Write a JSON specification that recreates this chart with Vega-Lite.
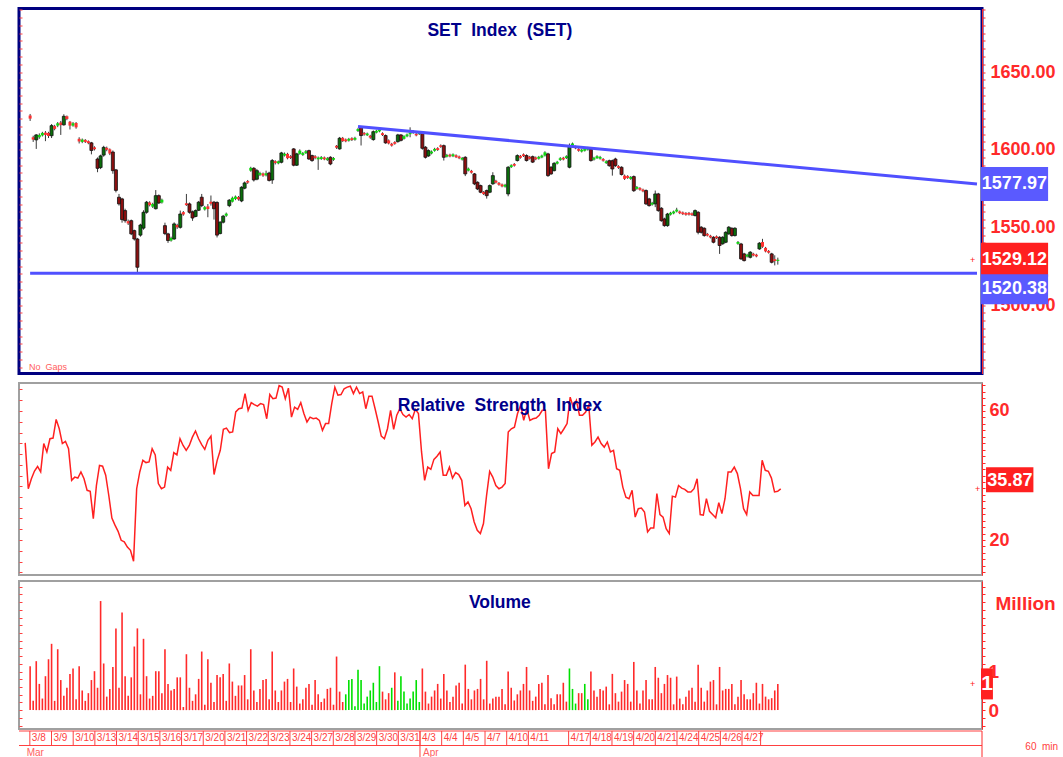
{
"$schema": "https://vega.github.io/schema/vega-lite/v6.json",
"background": "white",
"padding": {"left": 17, "top": 6.5, "right": 0, "bottom": 0},
"config": {"view": {"stroke": null}, "font": "Liberation Sans, sans-serif"},
"datasets": {
"bars": [
{"i":2,"o":1622,"h":1623,"l":1618.5,"c":1620,"r":50.1,"v":1.14},
{"i":3,"o":1608,"h":1609,"l":1605,"c":1606.5,"r":35.9,"v":0.24},
{"i":4,"o":1606.3,"h":1610,"l":1600.5,"c":1609.5,"r":39.0,"v":1.27},
{"i":5,"o":1608,"h":1610.5,"l":1607,"c":1609.5,"r":41.4,"v":0.68},
{"i":6,"o":1609.2,"h":1611.5,"l":1608.5,"c":1610.8,"r":42.8,"v":0.30},
{"i":7,"o":1611,"h":1612,"l":1605.5,"c":1609.5,"r":41.1,"v":0.88},
{"i":8,"o":1610.8,"h":1611.5,"l":1607.5,"c":1608.8,"r":49.9,"v":1.32},
{"i":9,"o":1609,"h":1616.5,"l":1607.5,"c":1615.5,"r":47.3,"v":1.72},
{"i":10,"o":1615.2,"h":1616,"l":1612.5,"c":1613.4,"r":51.4,"v":0.24},
{"i":11,"o":1615.5,"h":1617.8,"l":1614.5,"c":1617,"r":51.6,"v":1.58},
{"i":12,"o":1617.5,"h":1618.5,"l":1609.5,"c":1615.8,"r":57.4,"v":0.78},
{"i":13,"o":1616,"h":1622.8,"l":1615.5,"c":1621.5,"r":54.5,"v":0.37},
{"i":14,"o":1621.5,"h":1622,"l":1619,"c":1619.8,"r":49.9,"v":0.58},
{"i":15,"o":1618,"h":1618.5,"l":1613,"c":1615.5,"r":50.6,"v":0.94},
{"i":16,"o":1615.5,"h":1617.8,"l":1614.8,"c":1617,"r":48.3,"v":1.08},
{"i":17,"o":1617.2,"h":1617.8,"l":1613.5,"c":1614.4,"r":38.5,"v":0.28},
{"i":18,"o":1607,"h":1608,"l":1604,"c":1605.3,"r":39.5,"v":1.14},
{"i":19,"o":1605,"h":1607.2,"l":1604.2,"c":1606.5,"r":39.2,"v":0.51},
{"i":20,"o":1606.3,"h":1606.8,"l":1604.3,"c":1605,"r":41.1,"v":0.24},
{"i":21,"o":1605.5,"h":1606,"l":1603.5,"c":1604.2,"r":39.0,"v":0.44},
{"i":22,"o":1604.4,"h":1605,"l":1597,"c":1599.5,"r":35.4,"v":0.78},
{"i":23,"o":1601.5,"h":1602.2,"l":1599.5,"c":1600.3,"r":35.1,"v":1.01},
{"i":24,"o":1594,"h":1595,"l":1585.5,"c":1588,"r":26.6,"v":0.58},
{"i":25,"o":1588.5,"h":1596.8,"l":1587.5,"c":1596,"r":36.9,"v":2.83},
{"i":26,"o":1596.5,"h":1602.5,"l":1595.5,"c":1601.5,"r":43.1,"v":1.21},
{"i":27,"o":1601.2,"h":1602,"l":1599,"c":1600,"r":42.9,"v":0.35},
{"i":28,"o":1600.2,"h":1600.8,"l":1596.5,"c":1597.5,"r":40.1,"v":0.55},
{"i":29,"o":1598.5,"h":1599.5,"l":1584.5,"c":1586.5,"r":33.8,"v":1.12},
{"i":30,"o":1587,"h":1587.6,"l":1572.5,"c":1573.8,"r":26.8,"v":2.12},
{"i":31,"o":1569.4,"h":1571.5,"l":1564,"c":1565.1,"r":24.6,"v":0.58},
{"i":32,"o":1568.3,"h":1569,"l":1553,"c":1555,"r":22.7,"v":2.53},
{"i":33,"o":1560.8,"h":1562,"l":1553,"c":1554.3,"r":19.9,"v":0.88},
{"i":34,"o":1554,"h":1555,"l":1551.5,"c":1552.5,"r":19.4,"v":0.37},
{"i":35,"o":1554.3,"h":1555,"l":1545,"c":1545.8,"r":17.8,"v":0.85},
{"i":36,"o":1547.9,"h":1548.5,"l":1541.5,"c":1542.5,"r":16.8,"v":1.65},
{"i":37,"o":1542.5,"h":1543.2,"l":1520.4,"c":1524.3,"r":13.4,"v":2.12},
{"i":38,"o":1545,"h":1552.3,"l":1544,"c":1551.5,"r":35.9,"v":0.41},
{"i":39,"o":1549.5,"h":1561,"l":1548.5,"c":1559.7,"r":41.1,"v":1.85},
{"i":40,"o":1559.7,"h":1567,"l":1558.8,"c":1566.2,"r":44.7,"v":0.88},
{"i":41,"o":1566,"h":1566.8,"l":1563.5,"c":1564.3,"r":44.0,"v":0.30},
{"i":42,"o":1563.3,"h":1565.8,"l":1562.5,"c":1565,"r":44.2,"v":0.37},
{"i":43,"o":1562,"h":1574,"l":1561.5,"c":1570.4,"r":48.3,"v":1.01},
{"i":44,"o":1570.4,"h":1571.2,"l":1565,"c":1565.7,"r":46.4,"v":1.01},
{"i":45,"o":1566,"h":1568.5,"l":1565.3,"c":1567.8,"r":37.5,"v":0.44},
{"i":46,"o":1551.1,"h":1553,"l":1545,"c":1546,"r":35.9,"v":1.58},
{"i":47,"o":1545.8,"h":1546.5,"l":1540,"c":1541.5,"r":36.4,"v":0.68},
{"i":48,"o":1541.5,"h":1544,"l":1540.8,"c":1543.2,"r":42.6,"v":0.51},
{"i":49,"o":1542.5,"h":1553.2,"l":1542,"c":1552.2,"r":41.6,"v":0.55},
{"i":50,"o":1551.5,"h":1552.3,"l":1549,"c":1550,"r":47.1,"v":0.85},
{"i":51,"o":1550,"h":1560.8,"l":1549.2,"c":1558.6,"r":46.4,"v":0.85},
{"i":52,"o":1559.8,"h":1560.5,"l":1557.5,"c":1558.3,"r":51.4,"v":0.08},
{"i":53,"o":1565.5,"h":1571.5,"l":1563.8,"c":1564.3,"r":49.3,"v":1.45},
{"i":54,"o":1565.1,"h":1566,"l":1558.8,"c":1559.7,"r":47.8,"v":0.58},
{"i":55,"o":1560,"h":1560.8,"l":1554.2,"c":1556,"r":49.3,"v":0.24},
{"i":56,"o":1557,"h":1561.5,"l":1556.5,"c":1560.8,"r":51.9,"v":0.41},
{"i":57,"o":1561,"h":1567,"l":1560.5,"c":1566.2,"r":53.8,"v":0.81},
{"i":58,"o":1569.4,"h":1571.5,"l":1563,"c":1564,"r":51.4,"v":1.52},
{"i":59,"o":1561.5,"h":1563.8,"l":1560.8,"c":1563,"r":49.6,"v":0.14},
{"i":60,"o":1563.5,"h":1565,"l":1556.5,"c":1561.8,"r":48.1,"v":1.32},
{"i":61,"o":1566.5,"h":1570.5,"l":1564,"c":1565.2,"r":50.9,"v":0.71},
{"i":62,"o":1566.2,"h":1567,"l":1555,"c":1562,"r":52.2,"v":0.21},
{"i":63,"o":1566,"h":1566.8,"l":1543.5,"c":1545,"r":40.3,"v":0.91},
{"i":64,"o":1546,"h":1554,"l":1545.5,"c":1553.3,"r":44.7,"v":0.85},
{"i":65,"o":1553.3,"h":1558,"l":1552.5,"c":1557.2,"r":47.8,"v":0.94},
{"i":66,"o":1557.5,"h":1559.5,"l":1556.8,"c":1558.8,"r":54.3,"v":0.24},
{"i":67,"o":1564,"h":1568.2,"l":1563,"c":1567.5,"r":54.7,"v":1.21},
{"i":68,"o":1566.5,"h":1569.8,"l":1566,"c":1569,"r":53.3,"v":0.74},
{"i":69,"o":1568.3,"h":1570.5,"l":1567.5,"c":1569.8,"r":53.5,"v":0.37},
{"i":70,"o":1569.5,"h":1570.2,"l":1567.2,"c":1568,"r":59.7,"v":0.64},
{"i":71,"o":1567,"h":1576.5,"l":1566.2,"c":1575.8,"r":60.7,"v":0.64},
{"i":72,"o":1575.2,"h":1579.5,"l":1574.5,"c":1578.6,"r":60.9,"v":0.91},
{"i":73,"o":1579.8,"h":1580.5,"l":1578,"c":1578.8,"r":65.4,"v":0.28},
{"i":74,"o":1586.5,"h":1589,"l":1585.8,"c":1588.3,"r":60.2,"v":1.58},
{"i":75,"o":1588,"h":1588.8,"l":1579.5,"c":1580.5,"r":62.6,"v":0.51},
{"i":76,"o":1581,"h":1587.6,"l":1580.3,"c":1586.5,"r":62.0,"v":0.21},
{"i":77,"o":1583.8,"h":1585.8,"l":1583,"c":1585,"r":61.5,"v":0.55},
{"i":78,"o":1584.7,"h":1585.3,"l":1582.5,"c":1583.3,"r":62.3,"v":0.78},
{"i":79,"o":1583.5,"h":1586.5,"l":1582.8,"c":1584.8,"r":62.0,"v":0.81},
{"i":80,"o":1585,"h":1585.8,"l":1579.5,"c":1580.2,"r":57.6,"v":0.28},
{"i":81,"o":1580.5,"h":1594,"l":1578,"c":1593,"r":65.1,"v":1.52},
{"i":82,"o":1592.6,"h":1593.2,"l":1590.5,"c":1591.4,"r":63.8,"v":0.51},
{"i":83,"o":1591.2,"h":1593,"l":1590.6,"c":1592.5,"r":64.0,"v":0.21},
{"i":84,"o":1591.9,"h":1598.6,"l":1591.2,"c":1597.9,"r":67.9,"v":0.51},
{"i":85,"o":1596.2,"h":1598.2,"l":1595.6,"c":1597.4,"r":67.4,"v":0.74},
{"i":86,"o":1597.3,"h":1598,"l":1593.8,"c":1594.5,"r":63.8,"v":0.81},
{"i":87,"o":1595.8,"h":1596.5,"l":1594,"c":1594.7,"r":67.1,"v":0.21},
{"i":88,"o":1600.5,"h":1601,"l":1589.3,"c":1590,"r":58.1,"v":1.08},
{"i":89,"o":1590,"h":1598,"l":1589.5,"c":1597.3,"r":61.2,"v":0.61},
{"i":90,"o":1597.3,"h":1600.2,"l":1596.8,"c":1599.4,"r":60.5,"v":0.17},
{"i":91,"o":1596.6,"h":1598.5,"l":1596,"c":1597.8,"r":62.6,"v":0.28},
{"i":92,"o":1597.8,"h":1599.8,"l":1597.2,"c":1599,"r":59.2,"v":0.58},
{"i":93,"o":1599.4,"h":1600,"l":1593.4,"c":1594,"r":56.6,"v":0.68},
{"i":94,"o":1596.2,"h":1596.8,"l":1592.2,"c":1593,"r":58.1,"v":0.14},
{"i":95,"o":1595.8,"h":1596.5,"l":1593.8,"c":1594.6,"r":57.6,"v":0.78},
{"i":96,"o":1593.8,"h":1595.6,"l":1587,"c":1594.9,"r":57.8,"v":0.41},
{"i":97,"o":1594,"h":1595.9,"l":1593.4,"c":1595.2,"r":57.1,"v":0.21},
{"i":98,"o":1595,"h":1595.6,"l":1593.2,"c":1593.8,"r":54.0,"v":0.30},
{"i":99,"o":1593.3,"h":1595.2,"l":1592.8,"c":1594.5,"r":56.1,"v":0.55},
{"i":100,"o":1595.1,"h":1595.8,"l":1590,"c":1590.8,"r":56.1,"v":0.58},
{"i":101,"o":1593.5,"h":1595.2,"l":1592.8,"c":1594.6,"r":62.3,"v":0.14},
{"i":102,"o":1602.5,"h":1603,"l":1600.5,"c":1601.3,"r":67.4,"v":1.39},
{"i":103,"o":1600.5,"h":1608.2,"l":1600,"c":1607.4,"r":64.9,"v":0.48},
{"i":104,"o":1607.6,"h":1608.2,"l":1605,"c":1605.5,"r":65.1,"v":0.21},
{"i":105,"o":1606.6,"h":1607.2,"l":1604.8,"c":1605.4,"r":66.9,"v":0.41,"vt":"u"},
{"i":106,"o":1605.8,"h":1607.6,"l":1605.2,"c":1607,"r":67.4,"v":0.78,"vt":"u"},
{"i":107,"o":1607.4,"h":1608,"l":1605.6,"c":1606.2,"r":67.7,"v":0.81,"vt":"u"},
{"i":108,"o":1606.4,"h":1608.3,"l":1605.8,"c":1607.6,"r":65.4,"v":0.10,"vt":"u"},
{"i":109,"o":1612,"h":1614,"l":1611.4,"c":1613.3,"r":67.4,"v":1.05,"vt":"u"},
{"i":110,"o":1614.4,"h":1615.2,"l":1602.7,"c":1609.1,"r":65.4,"v":0.78,"vt":"u"},
{"i":111,"o":1610.8,"h":1611.4,"l":1609,"c":1609.8,"r":65.9,"v":0.17,"vt":"u"},
{"i":112,"o":1609.3,"h":1611,"l":1608.8,"c":1610.4,"r":60.7,"v":0.35,"vt":"u"},
{"i":113,"o":1609,"h":1609.6,"l":1607,"c":1607.8,"r":64.6,"v":0.51,"vt":"u"},
{"i":114,"o":1606.5,"h":1612.4,"l":1605.8,"c":1611.6,"r":64.6,"v":0.71,"vt":"u"},
{"i":115,"o":1611,"h":1612.8,"l":1610.5,"c":1612.2,"r":60.7,"v":0.21,"vt":"u"},
{"i":116,"o":1611.8,"h":1613.6,"l":1611.2,"c":1613,"r":56.6,"v":1.14,"vt":"u"},
{"i":117,"o":1610.6,"h":1611.2,"l":1608.8,"c":1609.4,"r":52.2,"v":0.48},
{"i":118,"o":1609.1,"h":1609.8,"l":1603.8,"c":1604.4,"r":51.4,"v":0.28},
{"i":119,"o":1606,"h":1606.6,"l":1603.4,"c":1604,"r":54.5,"v":0.44},
{"i":120,"o":1603.8,"h":1604.4,"l":1602,"c":1602.6,"r":60.2,"v":0.58,"vt":"u"},
{"i":121,"o":1604.9,"h":1605.5,"l":1603.2,"c":1603.8,"r":54.3,"v":0.98},
{"i":122,"o":1605.2,"h":1610.2,"l":1604.5,"c":1609.5,"r":58.7,"v":0.24,"vt":"u"},
{"i":123,"o":1609.5,"h":1610,"l":1605.3,"c":1606,"r":60.7,"v":0.88,"vt":"u"},
{"i":124,"o":1607,"h":1609.3,"l":1606.5,"c":1608.7,"r":58.9,"v":0.48,"vt":"u"},
{"i":125,"o":1608.6,"h":1610.4,"l":1608,"c":1609.8,"r":58.1,"v":0.17,"vt":"u"},
{"i":126,"o":1610,"h":1614.4,"l":1608,"c":1611,"r":58.9,"v":0.30,"vt":"u"},
{"i":127,"o":1612,"h":1612.6,"l":1610.2,"c":1610.8,"r":57.6,"v":0.48,"vt":"u"},
{"i":128,"o":1610.2,"h":1610.8,"l":1608.6,"c":1609.2,"r":60.5,"v":0.78,"vt":"u"},
{"i":129,"o":1610,"h":1611.8,"l":1609.5,"c":1611.2,"r":59.2,"v":0.21,"vt":"u"},
{"i":130,"o":1611.2,"h":1612,"l":1600,"c":1600.9,"r":47.3,"v":1.08},
{"i":131,"o":1601.6,"h":1602.3,"l":1594.3,"c":1595.1,"r":38.5,"v":0.48},
{"i":132,"o":1596,"h":1600.2,"l":1595.4,"c":1599.4,"r":42.6,"v":0.17},
{"i":133,"o":1597.6,"h":1599.5,"l":1597,"c":1598.8,"r":41.9,"v":0.35},
{"i":134,"o":1599.3,"h":1601.2,"l":1598.7,"c":1600.5,"r":45.0,"v":0.51},
{"i":135,"o":1601,"h":1601.6,"l":1599.2,"c":1599.8,"r":46.0,"v":0.68},
{"i":136,"o":1602.8,"h":1603.4,"l":1601.2,"c":1601.8,"r":47.3,"v":0.30},
{"i":137,"o":1602.6,"h":1603.3,"l":1593,"c":1595.1,"r":40.1,"v":0.94},
{"i":138,"o":1595.5,"h":1597.3,"l":1595,"c":1596.6,"r":40.1,"v":0.51},
{"i":139,"o":1596.8,"h":1597.4,"l":1595.1,"c":1595.7,"r":42.6,"v":0.21},
{"i":140,"o":1595.8,"h":1597.6,"l":1595.2,"c":1597,"r":39.2,"v":0.35},
{"i":141,"o":1596.4,"h":1597,"l":1594.6,"c":1595.2,"r":40.9,"v":0.64},
{"i":142,"o":1595.6,"h":1596.2,"l":1593.9,"c":1594.5,"r":40.3,"v":0.71},
{"i":143,"o":1593.6,"h":1595.3,"l":1593,"c":1594.7,"r":38.5,"v":0.17},
{"i":144,"o":1595.1,"h":1595.8,"l":1583,"c":1584.4,"r":30.7,"v":1.18},
{"i":145,"o":1586.5,"h":1588.5,"l":1586,"c":1587.8,"r":31.8,"v":0.55},
{"i":146,"o":1586.4,"h":1587,"l":1584.6,"c":1585.2,"r":29.7,"v":0.28},
{"i":147,"o":1584.4,"h":1585,"l":1577.2,"c":1578,"r":25.6,"v":0.51},
{"i":148,"o":1579,"h":1579.6,"l":1574,"c":1574.7,"r":23.0,"v":0.55},
{"i":149,"o":1576.9,"h":1577.5,"l":1572,"c":1572.6,"r":22.0,"v":0.81},
{"i":150,"o":1572.8,"h":1573.4,"l":1570.8,"c":1571.4,"r":25.1,"v":0.28},
{"i":151,"o":1573.7,"h":1574.3,"l":1568.5,"c":1570.4,"r":33.8,"v":1.28},
{"i":152,"o":1572.6,"h":1577.6,"l":1572,"c":1576.9,"r":41.3,"v":0.17},
{"i":153,"o":1578,"h":1585.5,"l":1577.4,"c":1583.3,"r":39.5,"v":0.30},
{"i":154,"o":1580,"h":1580.6,"l":1578.2,"c":1578.8,"r":36.9,"v":0.35},
{"i":155,"o":1578.6,"h":1579.2,"l":1576.8,"c":1577.4,"r":35.9,"v":0.35},
{"i":156,"o":1577.6,"h":1578.2,"l":1575.8,"c":1576.4,"r":36.4,"v":0.55},
{"i":157,"o":1576.2,"h":1578,"l":1575.6,"c":1577.4,"r":37.5,"v":0.15},
{"i":158,"o":1571.5,"h":1589.4,"l":1570,"c":1588.7,"r":53.5,"v":1.00},
{"i":159,"o":1588.8,"h":1590.6,"l":1588.2,"c":1590,"r":54.5,"v":0.58},
{"i":160,"o":1590.8,"h":1591.4,"l":1589.1,"c":1589.7,"r":55.0,"v":0.25},
{"i":161,"o":1593,"h":1597,"l":1592.4,"c":1596.2,"r":59.2,"v":0.41},
{"i":162,"o":1596,"h":1596.6,"l":1594.2,"c":1594.8,"r":61.8,"v":0.51},
{"i":163,"o":1597,"h":1597.6,"l":1595.3,"c":1595.9,"r":57.1,"v":0.68},
{"i":164,"o":1596.2,"h":1597,"l":1592.4,"c":1593,"r":60.7,"v":1.12},
{"i":165,"o":1595.4,"h":1596,"l":1593.6,"c":1594.2,"r":57.1,"v":0.51},
{"i":166,"o":1595.5,"h":1596.2,"l":1591.4,"c":1592,"r":57.6,"v":0.24},
{"i":167,"o":1595,"h":1595.6,"l":1593.2,"c":1593.8,"r":57.8,"v":0.35},
{"i":168,"o":1594.2,"h":1596,"l":1593.6,"c":1595.4,"r":58.7,"v":0.68},
{"i":169,"o":1595,"h":1596.8,"l":1594.5,"c":1596.2,"r":60.2,"v":0.71},
{"i":170,"o":1596.2,"h":1599,"l":1595.6,"c":1598.3,"r":60.2,"v":0.15},
{"i":171,"o":1597.3,"h":1598,"l":1582.5,"c":1583.3,"r":42.1,"v":0.91},
{"i":172,"o":1588.7,"h":1589.4,"l":1583.8,"c":1584.4,"r":46.8,"v":0.31},
{"i":173,"o":1586.5,"h":1592,"l":1586,"c":1591.2,"r":47.3,"v":0.15},
{"i":174,"o":1591,"h":1592.8,"l":1590.5,"c":1592.2,"r":54.5,"v":0.41},
{"i":175,"o":1593.4,"h":1595.2,"l":1592.8,"c":1594.5,"r":53.0,"v":0.41},
{"i":176,"o":1594.8,"h":1595.4,"l":1593.1,"c":1593.7,"r":54.5,"v":0.71},
{"i":177,"o":1594.6,"h":1596.4,"l":1594,"c":1595.8,"r":56.1,"v":0.22},
{"i":178,"o":1588.7,"h":1604,"l":1588,"c":1602.6,"r":64.3,"v":1.08,"vt":"u"},
{"i":179,"o":1602.8,"h":1604.6,"l":1602.2,"c":1604,"r":61.2,"v":0.55,"vt":"u"},
{"i":180,"o":1602,"h":1602.6,"l":1600.3,"c":1600.9,"r":63.3,"v":0.17,"vt":"u"},
{"i":181,"o":1600.4,"h":1601,"l":1598.7,"c":1599.3,"r":58.7,"v":0.44},
{"i":182,"o":1598.8,"h":1600.6,"l":1598.2,"c":1600,"r":58.7,"v":0.44},
{"i":183,"o":1599.3,"h":1601.2,"l":1598.8,"c":1600.5,"r":59.7,"v":0.68,"vt":"u"},
{"i":184,"o":1600,"h":1601.8,"l":1599.4,"c":1601.2,"r":61.8,"v":0.28,"vt":"u"},
{"i":185,"o":1600.2,"h":1600.8,"l":1592.3,"c":1593,"r":49.4,"v":1.00},
{"i":186,"o":1593.6,"h":1595.4,"l":1593,"c":1594.8,"r":50.4,"v":0.51},
{"i":187,"o":1594.6,"h":1596.4,"l":1594,"c":1595.8,"r":51.9,"v":0.35},
{"i":188,"o":1594.2,"h":1596,"l":1593.6,"c":1595.3,"r":49.9,"v":0.55},
{"i":189,"o":1594,"h":1594.6,"l":1592.3,"c":1592.9,"r":48.8,"v":0.51},
{"i":190,"o":1591.4,"h":1593.2,"l":1590.8,"c":1592.5,"r":50.4,"v":0.61},
{"i":191,"o":1592.9,"h":1593.6,"l":1589,"c":1589.7,"r":47.3,"v":0.15},
{"i":192,"o":1592.9,"h":1593.6,"l":1583.3,"c":1587.6,"r":47.8,"v":0.94},
{"i":193,"o":1594,"h":1594.8,"l":1588.9,"c":1589.7,"r":42.1,"v":0.44},
{"i":194,"o":1589.4,"h":1590,"l":1587.6,"c":1588.3,"r":41.6,"v":0.22},
{"i":195,"o":1588.7,"h":1589.3,"l":1583.4,"c":1584,"r":36.4,"v":0.48},
{"i":196,"o":1583.3,"h":1584,"l":1580.5,"c":1581.2,"r":33.3,"v":0.78},
{"i":197,"o":1583,"h":1583.6,"l":1581.2,"c":1581.8,"r":32.8,"v":0.68},
{"i":198,"o":1581.2,"h":1583,"l":1580.6,"c":1582.4,"r":35.4,"v":0.22},
{"i":199,"o":1582.7,"h":1583.4,"l":1572.8,"c":1573.6,"r":27.1,"v":1.25},
{"i":200,"o":1574.8,"h":1576.6,"l":1574.2,"c":1576,"r":29.7,"v":0.51},
{"i":201,"o":1575.3,"h":1575.9,"l":1573.6,"c":1574.2,"r":29.9,"v":0.17},
{"i":202,"o":1574.3,"h":1574.9,"l":1572.6,"c":1573.2,"r":28.7,"v":0.51},
{"i":203,"o":1573.7,"h":1574.4,"l":1564.4,"c":1565.1,"r":22.5,"v":0.78},
{"i":204,"o":1568.3,"h":1569,"l":1563.3,"c":1564,"r":23.7,"v":0.28},
{"i":205,"o":1564.6,"h":1566.4,"l":1564,"c":1565.8,"r":23.7,"v":0.28},
{"i":206,"o":1565.1,"h":1573.7,"l":1563,"c":1571.5,"r":34.4,"v":1.12},
{"i":207,"o":1571.5,"h":1572.2,"l":1560,"c":1560.8,"r":27.9,"v":0.84},
{"i":208,"o":1562.3,"h":1563,"l":1553.6,"c":1554.3,"r":27.1,"v":0.44},
{"i":209,"o":1555.4,"h":1556.2,"l":1550.4,"c":1551.1,"r":23.5,"v":0.68},
{"i":210,"o":1551.1,"h":1559.3,"l":1550.4,"c":1558.6,"r":22.0,"v":0.91},
{"i":211,"o":1558.2,"h":1560,"l":1557.6,"c":1559.4,"r":33.6,"v":0.84},
{"i":212,"o":1559,"h":1560.8,"l":1558.4,"c":1560.2,"r":33.3,"v":0.15},
{"i":213,"o":1560.2,"h":1562.6,"l":1559.6,"c":1561.4,"r":36.9,"v":0.87},
{"i":214,"o":1560.2,"h":1560.8,"l":1558.5,"c":1559.1,"r":36.1,"v":0.30},
{"i":215,"o":1559.6,"h":1560.2,"l":1557.9,"c":1558.5,"r":35.7,"v":0.15},
{"i":216,"o":1559.2,"h":1559.8,"l":1557.5,"c":1558.1,"r":34.9,"v":0.35},
{"i":217,"o":1559.3,"h":1559.9,"l":1557.6,"c":1558.2,"r":34.9,"v":0.51},
{"i":218,"o":1559,"h":1559.6,"l":1557.3,"c":1557.9,"r":35.9,"v":0.58},
{"i":219,"o":1557.6,"h":1561.5,"l":1557,"c":1560.8,"r":39.0,"v":0.22},
{"i":220,"o":1559.7,"h":1560.4,"l":1545.5,"c":1546.8,"r":27.9,"v":1.18},
{"i":221,"o":1550.1,"h":1550.8,"l":1546,"c":1546.8,"r":27.7,"v":0.58},
{"i":222,"o":1549.4,"h":1550,"l":1544,"c":1544.7,"r":32.8,"v":0.22},
{"i":223,"o":1545.8,"h":1546.4,"l":1544.1,"c":1544.7,"r":28.9,"v":0.51},
{"i":224,"o":1544.6,"h":1545.2,"l":1542.9,"c":1543.5,"r":27.9,"v":0.74},
{"i":225,"o":1543.6,"h":1544.3,"l":1539.7,"c":1540.4,"r":26.9,"v":0.78},
{"i":226,"o":1544.2,"h":1544.8,"l":1542.5,"c":1543.1,"r":31.6,"v":0.15},
{"i":227,"o":1543.6,"h":1544.3,"l":1532.9,"c":1538.3,"r":28.2,"v":1.12},
{"i":228,"o":1539.4,"h":1544.3,"l":1538.8,"c":1543.6,"r":32.8,"v":0.51},
{"i":229,"o":1540.4,"h":1547.5,"l":1539.8,"c":1546.8,"r":41.1,"v":0.55},
{"i":230,"o":1545.8,"h":1550.8,"l":1545.2,"c":1550.1,"r":41.1,"v":0.55},
{"i":231,"o":1549.4,"h":1550,"l":1544,"c":1544.7,"r":42.6,"v":0.68},
{"i":232,"o":1544.7,"h":1550.1,"l":1544.1,"c":1549.4,"r":40.6,"v":0.15},
{"i":233,"o":1539.4,"h":1541.2,"l":1538.8,"c":1540.6,"r":35.9,"v":0.35},
{"i":234,"o":1539.3,"h":1540,"l":1529,"c":1529.7,"r":29.7,"v":0.78},
{"i":235,"o":1532.9,"h":1533.6,"l":1528,"c":1528.6,"r":27.9,"v":0.41},
{"i":236,"o":1531.2,"h":1533,"l":1530.6,"c":1532.4,"r":34.9,"v":0.28},
{"i":237,"o":1530.7,"h":1534.7,"l":1530,"c":1534,"r":33.8,"v":0.28},
{"i":238,"o":1533,"h":1533.6,"l":1531.3,"c":1531.9,"r":33.8,"v":0.44},
{"i":239,"o":1532.4,"h":1533,"l":1530.7,"c":1531.3,"r":33.8,"v":0.71},
{"i":240,"o":1536.1,"h":1540.5,"l":1535.5,"c":1539.8,"r":44.7,"v":0.17},
{"i":241,"o":1540.5,"h":1542.6,"l":1536.8,"c":1537.5,"r":41.6,"v":0.68},
{"i":242,"o":1536.8,"h":1537.4,"l":1533.9,"c":1534.5,"r":41.3,"v":0.35},
{"i":243,"o":1534.8,"h":1535.4,"l":1533.1,"c":1533.7,"r":39.2,"v":0.28},
{"i":244,"o":1532.9,"h":1533.6,"l":1526.8,"c":1527.5,"r":34.9,"v":0.31},
{"i":245,"o":1529.5,"h":1532,"l":1525.5,"c":1528.3,"r":35.1,"v":0.51},
{"i":246,"o":1528.4,"h":1530.5,"l":1526,"c":1529.12,"r":35.87,"v":0.68}
],
"lines": [
{"name":"support","ia":2,"pa":1520.38,"ib":311,"pb":1520.38},
{"name":"trend","ia":109,"pa":1614.9,"ib":311,"pb":1577.97}
],
"days": [
{"d":"3/8","b":3.5},{"d":"3/9","b":10.5},{"d":"3/10","b":17.5},{"d":"3/13","b":24.5},{"d":"3/14","b":31.5},{"d":"3/15","b":38.5},{"d":"3/16","b":45.5},{"d":"3/17","b":52.5},{"d":"3/20","b":59.5},{"d":"3/21","b":66.5},{"d":"3/22","b":73.5},{"d":"3/23","b":80.5},{"d":"3/24","b":87.5},{"d":"3/27","b":94.5},{"d":"3/28","b":101.5},{"d":"3/29","b":108.5},{"d":"3/30","b":115.5},{"d":"3/31","b":122.5},{"d":"4/3","b":129.5},{"d":"4/4","b":136.5},{"d":"4/5","b":143.5},{"d":"4/7","b":150.5},{"d":"4/10","b":157.5},{"d":"4/11","b":164.5},{"d":"4/17","b":177.5},{"d":"4/18","b":184.5},{"d":"4/19","b":191.5},{"d":"4/20","b":198.5},{"d":"4/21","b":205.5},{"d":"4/24","b":212.5},{"d":"4/25","b":219.5},{"d":"4/26","b":226.5},{"d":"4/27","b":233.5},{"d":"","b":239.5}
],
"months": [{"m":"Mar","b":1.5},{"m":"Apr","b":129.5}],
"rows": [{"lv":2},{"lv":1}]
},
"spacing": 5.5,
"resolve": {"scale": {"x": "independent", "y": "independent"}},
"vconcat": [
{
 "width": 963, "height": 365,
 "view": {"stroke": "#000080", "strokeWidth": 3},
 "resolve": {"axis": {"y": "independent"}},
 "layer": [
  {"data": {"name": "bars"}, "mark": {"type": "rule", "color": "#3a3a3a", "strokeWidth": 1},
   "encoding": {
    "x": {"field": "i", "type": "quantitative", "scale": {"domain": [0, 311], "nice": false, "zero": false}, "axis": null},
    "y": {"field": "l", "type": "quantitative", "scale": {"domain": [1455.9, 1690.9], "nice": false, "zero": false},
      "axis": {"orient": "left", "offset": -3, "domain": false, "labels": false, "tickSize": 3, "tickColor": "#ff4040", "grid": false, "title": null,
        "values": [1460,1465,1470,1475,1480,1485,1490,1495,1500,1505,1510,1515,1520,1525,1530,1535,1540,1545,1550,1555,1560,1565,1570,1575,1580,1585,1590,1595,1600,1605,1610,1615,1620,1625,1630,1635,1640,1645,1650,1655,1660,1665,1670,1675,1680,1685,1690]}},
    "y2": {"field": "h"}}},
  {"data": {"name": "bars"}, "mark": {"type": "bar", "size": 3, "strokeWidth": 0.8},
   "encoding": {
    "x": {"field": "i", "type": "quantitative", "scale": {"domain": [0, 311], "nice": false, "zero": false}, "axis": null},
    "y": {"field": "o", "type": "quantitative", "scale": {"domain": [1455.9, 1690.9], "nice": false, "zero": false},
      "axis": {"orient": "right", "tickSize": 3, "tickColor": "#ff2a2a", "domainColor": "#ff2a2a", "labelColor": "#ff2a2a", "labelFont": "Liberation Sans, sans-serif",
        "labelFontSize": {"condition": {"test": "datum.value % 50 === 0", "value": 18}, "value": 0},
        "labelFontWeight": "bold", "labelPadding": 5, "grid": false, "title": null, "labelOverlap": false, "labelBound": false, "labelFlush": false,
        "values": [1460,1465,1470,1475,1480,1485,1490,1495,1500,1505,1510,1515,1520,1525,1530,1535,1540,1545,1550,1555,1560,1565,1570,1575,1580,1585,1590,1595,1600,1605,1610,1615,1620,1625,1630,1635,1640,1645,1650,1655,1660,1665,1670,1675,1680,1685,1690],
        "labelExpr": "datum.value % 50 === 0 ? format(datum.value, '.2f') : ''"}},
    "y2": {"field": "c"},
    "fill": {"condition": [
       {"test": "datum.c >= datum.o && datum.c - datum.o > 3", "value": "#0b6e0b"},
       {"test": "datum.c >= datum.o", "value": "#10d810"},
       {"test": "datum.o - datum.c > 3", "value": "#8c1010"}], "value": "#ff3030"},
    "stroke": {"condition": {"test": "abs(datum.c - datum.o) > 3", "value": "#111111"}, "value": "transparent"}}},
  {"data": {"name": "lines"}, "mark": {"type": "rule", "color": "#5050ff", "strokeWidth": 3},
   "encoding": {
    "x": {"field": "ia", "type": "quantitative", "axis": null}, "x2": {"field": "ib"},
    "y": {"field": "pa", "type": "quantitative", "axis": null}, "y2": {"field": "pb"}}},
  {"data": {"name": "lines"}, "transform": [{"filter": "datum.name === 'trend'"}],
   "mark": {"type": "rect", "height": 34, "fill": "#5a5aff"},
   "encoding": {"x": {"datum": 312.3, "type": "quantitative", "axis": null}, "x2": {"datum": 334.2}, "y": {"field": "pb", "type": "quantitative", "axis": null}}},
  {"data": {"name": "lines"}, "transform": [{"filter": "datum.name === 'trend'"}],
   "mark": {"type": "text", "fill": "white", "fontSize": 18, "fontWeight": "bold", "align": "center", "baseline": "middle"},
   "encoding": {"x": {"datum": 323.2, "type": "quantitative", "axis": null}, "y": {"field": "pb", "type": "quantitative", "axis": null}, "text": {"field": "pb", "type": "quantitative", "format": ".2f"}}},
  {"data": {"name": "bars"}, "transform": [{"filter": "datum.i === 246"}],
   "mark": {"type": "rect", "height": 34, "fill": "#ff2020"},
   "encoding": {"x": {"datum": 312.3, "type": "quantitative", "axis": null}, "x2": {"datum": 334.2}, "y": {"field": "c", "type": "quantitative", "axis": null}}},
  {"data": {"name": "bars"}, "transform": [{"filter": "datum.i === 246"}],
   "mark": {"type": "text", "fill": "white", "fontSize": 18, "fontWeight": "bold", "align": "center", "baseline": "middle"},
   "encoding": {"x": {"datum": 323.2, "type": "quantitative", "axis": null}, "y": {"field": "c", "type": "quantitative", "axis": null}, "text": {"field": "c", "type": "quantitative", "format": ".2f"}}},
  {"data": {"name": "bars"}, "transform": [{"filter": "datum.i === 246"}],
   "mark": {"type": "text", "fill": "#ff2020", "fontSize": 9, "align": "center", "baseline": "middle", "text": "+"},
   "encoding": {"x": {"datum": 309.6, "type": "quantitative", "axis": null}, "y": {"field": "c", "type": "quantitative", "axis": null}}},
  {"data": {"name": "lines"}, "transform": [{"filter": "datum.name === 'support'"}],
   "mark": {"type": "rect", "height": 30, "fill": "#5a5aff", "yOffset": 16},
   "encoding": {"x": {"datum": 312.3, "type": "quantitative", "axis": null}, "x2": {"datum": 334.2}, "y": {"field": "pb", "type": "quantitative", "axis": null}}},
  {"data": {"name": "lines"}, "transform": [{"filter": "datum.name === 'support'"}],
   "mark": {"type": "text", "fill": "white", "fontSize": 18, "fontWeight": "bold", "align": "center", "baseline": "middle", "yOffset": 16},
   "encoding": {"x": {"datum": 323.2, "type": "quantitative", "axis": null}, "y": {"field": "pb", "type": "quantitative", "axis": null}, "text": {"field": "pb", "type": "quantitative", "format": ".2f"}}},
  {"data": {"name": "months"}, "transform": [{"filter": "datum.m === 'Mar'"}],
   "mark": {"type": "text", "text": "No\u00a0 Gaps", "fill": "#ff6060", "fontSize": 9, "align": "left", "baseline": "bottom", "dy": -2},
   "encoding": {"x": {"datum": 1.6, "type": "quantitative", "axis": null}, "y": {"datum": 1455.9, "type": "quantitative", "axis": null}}},
  {"data": {"name": "months"}, "transform": [{"filter": "datum.m === 'Mar'"}],
   "mark": {"type": "text", "text": "SET\u00a0 Index\u00a0 (SET)", "fill": "#00008b", "fontSize": 17.5, "fontWeight": "bold", "align": "center", "baseline": "middle"},
   "encoding": {"x": {"datum": 155.3, "type": "quantitative", "axis": null}, "y": {"datum": 1676.7, "type": "quantitative", "axis": null}}}
 ]
},
{
 "spacing": 4,
 "resolve": {"scale": {"x": "independent", "y": "independent"}},
 "vconcat": [
  {
   "width": 963, "height": 192,
   "view": {"stroke": "#a0a0a0", "strokeWidth": 2},
   "resolve": {"axis": {"y": "independent"}},
   "layer": [
    {"data": {"name": "bars"}, "mark": {"type": "line", "color": "#ff2020", "strokeWidth": 1.5},
     "encoding": {
      "x": {"field": "i", "type": "quantitative", "scale": {"domain": [0, 311], "nice": false, "zero": false}, "axis": null},
      "y": {"field": "r", "type": "quantitative", "scale": {"domain": [9.15, 68.68], "nice": false, "zero": false},
        "axis": {"orient": "left", "offset": -3, "domain": false, "labels": false, "tickSize": 3, "tickColor": "#ff4040", "grid": false, "title": null,
          "values": [10,13.3,16.7,20,23.3,26.7,30,33.3,36.7,40,43.3,46.7,50,53.3,56.7,60,63.3,66.7]}}}},
    {"data": {"name": "months"}, "transform": [{"filter": "datum.m === 'Mar'"}],
     "mark": {"type": "text", "text": "Relative\u00a0 Strength\u00a0 Index", "fill": "#00008b", "fontSize": 17.5, "fontWeight": "bold", "align": "center", "baseline": "middle"},
     "encoding": {"x": {"datum": 155.3, "type": "quantitative", "axis": null}, "y": {"datum": 61.55, "type": "quantitative", "axis": null}}},
    {"data": {"name": "bars"}, "transform": [{"filter": "datum.i === 246"}],
     "mark": {"type": "text", "fill": "#ff2020", "fontSize": 9, "align": "center", "baseline": "middle", "text": "+"},
     "encoding": {"x": {"datum": 309.6, "type": "quantitative", "axis": null},
      "y": {"field": "r", "type": "quantitative",
         "axis": {"orient": "right", "tickSize": 3, "tickColor": "#ff2a2a", "domainColor": "#ff2a2a", "labelColor": "#ff2a2a", "labelFont": "Liberation Sans, sans-serif",
           "labelFontSize": {"condition": {"test": "datum.value % 20 === 0", "value": 18}, "value": 0},
           "labelFontWeight": "bold", "labelPadding": 4, "grid": false, "title": null, "labelOverlap": false, "labelBound": false, "labelFlush": false,
           "values": [10,12,14,16,18,20,22,24,26,28,30,32,34,36,38,40,42,44,46,48,50,52,54,56,58,60,62,64,66,68],
           "labelExpr": "datum.value % 20 === 0 ? datum.label : ''"}}}},
    {"data": {"name": "bars"}, "transform": [{"filter": "datum.i === 246"}],
     "mark": {"type": "rect", "height": 25, "fill": "#ff2020", "yOffset": -9},
     "encoding": {"x": {"datum": 312.3, "type": "quantitative", "axis": null}, "x2": {"datum": 327.6}, "y": {"field": "r", "type": "quantitative", "axis": null}}},
    {"data": {"name": "bars"}, "transform": [{"filter": "datum.i === 246"}],
     "mark": {"type": "text", "fill": "white", "fontSize": 18, "fontWeight": "bold", "align": "center", "baseline": "middle", "yOffset": -8},
     "encoding": {"x": {"datum": 320, "type": "quantitative", "axis": null}, "y": {"field": "r", "type": "quantitative", "axis": null}, "text": {"field": "r", "type": "quantitative", "format": ".2f"}}}
   ]
  },
  {
   "spacing": 0,
   "resolve": {"scale": {"x": "independent", "y": "independent"}},
   "vconcat": [
    {
     "width": 963, "height": 148,
     "view": {"stroke": "#a0a0a0", "strokeWidth": 2},
     "resolve": {"axis": {"y": "independent"}},
     "layer": [
      {"data": {"name": "bars"}, "mark": {"type": "bar", "size": 1.6},
       "encoding": {
        "x": {"field": "i", "type": "quantitative", "scale": {"domain": [0, 311], "nice": false, "zero": false}, "axis": null},
        "y": {"field": "v", "type": "quantitative", "scale": {"domain": [-0.49, 3.35], "nice": false, "zero": false},
          "axis": {"orient": "left", "offset": -3, "domain": false, "labels": false, "tickSize": 3, "tickColor": "#ff4040", "grid": false, "title": null,
            "values": [-0.4,-0.2,0,0.2,0.4,0.6,0.8,1,1.2,1.4,1.6,1.8,2,2.2,2.4,2.6,2.8,3,3.2]}},
        "y2": {"datum": 0},
        "fill": {"condition": {"test": "datum.vt === 'u'", "value": "#00e000"}, "value": "#ff2a2a"}}},
      {"data": {"name": "months"}, "transform": [{"filter": "datum.m === 'Mar'"}],
       "mark": {"type": "text", "text": "Volume", "fill": "#00008b", "fontSize": 17.5, "fontWeight": "bold", "align": "center", "baseline": "middle"},
       "encoding": {"x": {"datum": 155.3, "type": "quantitative", "axis": null}, "y": {"datum": 2.78, "type": "quantitative", "axis": null}}},
      {"data": {"name": "bars"}, "transform": [{"filter": "datum.i === 246"}],
       "mark": {"type": "text", "fill": "#ff2020", "fontSize": 9, "align": "center", "baseline": "middle", "text": "+"},
       "encoding": {"x": {"datum": 309.6, "type": "quantitative", "axis": null},
        "y": {"field": "v", "type": "quantitative",
           "axis": {"orient": "right", "tickSize": 3, "tickColor": "#ff2a2a", "domainColor": "#ff2a2a", "labelColor": "#ff2a2a", "labelFont": "Liberation Sans, sans-serif",
             "labelFontSize": {"condition": {"test": "datum.value === 0 || datum.value === 1", "value": 19}, "value": 0},
             "labelFontWeight": "bold", "labelPadding": 3, "grid": false, "labelOverlap": false, "labelBound": false, "labelFlush": false,
             "values": [-0.4,-0.2,0,0.2,0.4,0.6,0.8,1,1.2,1.4,1.6,1.8,2,2.2,2.4,2.6,2.8,3,3.2],
             "labelExpr": "datum.value === 0 || datum.value === 1 ? format(datum.value, 'd') : ''",
             "title": "Million", "titleAngle": 0, "titleAlign": "left", "titleBaseline": "middle", "titleX": 13, "titleY": 22, "titleColor": "#ff2a2a", "titleFontSize": 19, "titleFontWeight": "bold", "titleFont": "Liberation Sans, sans-serif"}}}},
      {"data": {"name": "bars"}, "transform": [{"filter": "datum.i === 246"}],
       "mark": {"type": "rect", "height": 31, "fill": "#ff2020"},
       "encoding": {"x": {"datum": 312.3, "type": "quantitative", "axis": null}, "x2": {"datum": 316.2}, "y": {"field": "v", "type": "quantitative", "axis": null}}},
      {"data": {"name": "bars"}, "transform": [{"filter": "datum.i === 246"}],
       "mark": {"type": "text", "fill": "white", "fontSize": 21, "fontWeight": "bold", "align": "center", "baseline": "middle"},
       "encoding": {"x": {"datum": 314.3, "type": "quantitative", "axis": null}, "y": {"field": "v", "type": "quantitative", "axis": null}, "text": {"field": "v", "type": "quantitative", "format": ".0f"}}}
     ]
    },
    {
     "width": 963, "height": 29,
     "layer": [
      {"data": {"name": "rows"}, "mark": {"type": "rule", "color": "#ff4040", "strokeWidth": 1},
       "encoding": {"y": {"field": "lv", "type": "quantitative", "scale": {"domain": [0, 2], "nice": false, "zero": false}, "axis": null}}},
      {"data": {"name": "days"}, "mark": {"type": "rule", "color": "#ff4040", "strokeWidth": 1},
       "encoding": {"x": {"field": "b", "type": "quantitative", "scale": {"domain": [0, 311], "nice": false, "zero": false}, "axis": null}, "y": {"datum": 1, "type": "quantitative"}, "y2": {"datum": 2}}},
      {"data": {"name": "days"}, "mark": {"type": "text", "fill": "#ff4040", "fontSize": 10, "align": "left", "baseline": "middle", "dx": 2},
       "encoding": {"x": {"field": "b", "type": "quantitative"}, "y": {"datum": 1.5, "type": "quantitative"}, "text": {"field": "d"}}},
      {"data": {"name": "months"}, "transform": [{"filter": "datum.b > 2"}], "mark": {"type": "rule", "color": "#ff4040", "strokeWidth": 1},
       "encoding": {"x": {"field": "b", "type": "quantitative"}, "y": {"datum": 0, "type": "quantitative"}, "y2": {"datum": 2}}},
      {"data": {"name": "months"}, "mark": {"type": "text", "fill": "#ff6060", "fontSize": 10, "align": "left", "baseline": "middle", "dx": 3},
       "encoding": {"x": {"field": "b", "type": "quantitative"}, "y": {"datum": 0.5, "type": "quantitative"}, "text": {"field": "m"}}},
      {"data": {"name": "months"}, "transform": [{"filter": "datum.m === 'Mar'"}], "mark": {"type": "rule", "color": "#ff2a2a", "strokeWidth": 1},
       "encoding": {"x": {"datum": 311, "type": "quantitative"}}},
      {"data": {"name": "months"}, "transform": [{"filter": "datum.m === 'Mar'"}], "mark": {"type": "text", "text": "60\u00a0 min", "fill": "#ff4040", "fontSize": 10, "align": "left", "baseline": "middle"},
       "encoding": {"x": {"datum": 325, "type": "quantitative"}, "y": {"datum": 0.9, "type": "quantitative"}}}
     ]
    }
   ]
  }
 ]
}
]
}
